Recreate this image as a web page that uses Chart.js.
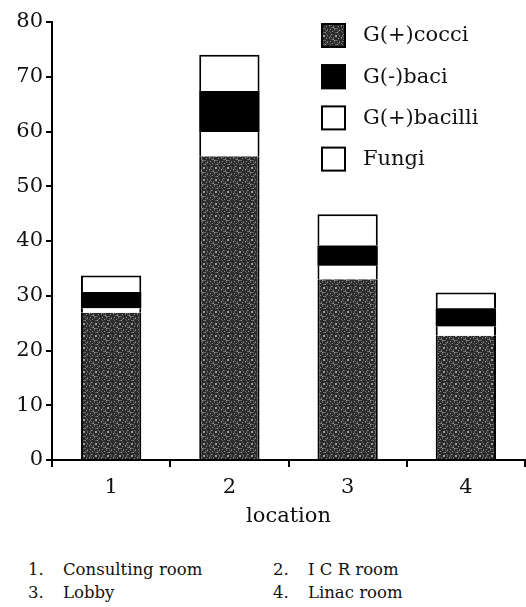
<!DOCTYPE html>
<html>
<head>
<meta charset="utf-8">
<script src="https://cdn.jsdelivr.net/npm/chart.js@4"></script>
<style>
  body { margin: 0; background: #fff; width: 526px; height: 607px; position: relative; overflow: hidden; }
  #wrap { position: absolute; left: 0; top: 0; width: 526px; height: 540px; }
  .note { position: absolute; font-family: "DejaVu Serif", serif; font-size: 16.5px; line-height: 23px; color: #111; white-space: nowrap; }
</style>
</head>
<body>
<div id="wrap"><canvas id="chart"></canvas></div>
<div class="note" style="left:28px;top:558px">1.</div>
<div class="note" style="left:63px;top:558px">Consulting room</div>
<div class="note" style="left:273px;top:558px">2.</div>
<div class="note" style="left:308px;top:558px">I C R room</div>
<div class="note" style="left:28px;top:581px">3.</div>
<div class="note" style="left:63px;top:581px">Lobby</div>
<div class="note" style="left:273px;top:581px">4.</div>
<div class="note" style="left:308px;top:581px">Linac room</div>
<script>
var locations = ["1", "2", "3", "4"];
var cocci   = [26.9, 55.5, 33.0, 22.7];
var bacilli = [0.8, 4.4, 2.5, 1.7];
var baci    = [3.0, 7.5, 3.7, 3.3];
var fungi   = [3.0, 6.6, 5.7, 2.9];
var yTicks  = [0, 10, 20, 30, 40, 50, 60, 70, 80];
var legendOrder = ["G(+)cocci", "G(-)baci", "G(+)bacilli", "Fungi"];

var serif = "'DejaVu Serif', serif";

// stippled dark grey fill for the cocci part
function stipple() {
  var c = document.createElement("canvas");
  c.width = 12; c.height = 12;
  var g = c.getContext("2d");
  g.fillStyle = "#2b2b2b";
  g.fillRect(0, 0, 12, 12);
  for (var y = 0; y < 12; y++) {
    for (var x = 0; x < 12; x++) {
      var h = (x * 37 + y * 91 + x * y * 13) % 11;
      if (h < 3) {
        g.fillStyle = h == 0 ? "#9a9a9a" : "#666";
        g.fillRect(x, y, 1, 1);
      }
    }
  }
  return g.createPattern(c, "repeat");
}

var side = {top: 0, right: 2, bottom: 0, left: 2};

var insideLegend = {
  id: "insideLegend",
  afterDraw: function(chart) {
    var ctx = chart.ctx;
    var sets = chart.data.datasets;
    ctx.save();
    ctx.font = "21px " + serif;
    ctx.textBaseline = "middle";
    legendOrder.forEach(function(name, i) {
      var ds = sets.find(function(d) { return d.label == name; });
      var x = 321, y = 23 + i * 41.2;
      ctx.fillStyle = ds.backgroundColor;
      ctx.fillRect(x, y, 25, 25);
      ctx.lineWidth = 2;
      ctx.strokeStyle = "#000";
      ctx.strokeRect(x + 1, y + 1, 23, 23);
      ctx.fillStyle = "#111";
      ctx.fillText(name, 363, y + 13);
    });
    ctx.restore();
  }
};

function draw() {
  var dots = stipple();
  new Chart(document.getElementById("chart"), {
    type: "bar",
    data: {
      labels: locations,
      datasets: [
        {label: "G(+)cocci", data: cocci, backgroundColor: dots, borderColor: "#000", borderWidth: side, borderSkipped: false},
        {label: "G(+)bacilli", data: bacilli, backgroundColor: "#fff", borderColor: "#000", borderWidth: side, borderSkipped: false},
        {label: "G(-)baci", data: baci, backgroundColor: "#000", borderColor: "#000", borderWidth: 0},
        {label: "Fungi", data: fungi, backgroundColor: "#fff", borderColor: "#000", borderWidth: {top: 2, right: 2, bottom: 0, left: 2}, borderSkipped: false}
      ]
    },
    options: {
      responsive: true,
      maintainAspectRatio: false,
      animation: false,
      layout: {padding: {top: 22, right: 1, left: 0, bottom: 0}},
      datasets: {bar: {categoryPercentage: 1, barPercentage: 0.51}},
      plugins: {legend: {display: false}, tooltip: {enabled: false}},
      scales: {
        x: {
          stacked: true,
          afterFit: function(s) { s.height = 80; },
          border: {color: "#000", width: 2},
          grid: {display: true, drawOnChartArea: false, color: "#000", lineWidth: 2, tickLength: 7, offset: true},
          ticks: {color: "#111", padding: 10.5, font: {family: serif, size: 21, lineHeight: 1}},
          title: {display: true, text: "location", color: "#111", font: {family: serif, size: 21, lineHeight: 1}, padding: {top: 0, bottom: 12.5}}
        },
        y: {
          stacked: true,
          min: 0, max: 80,
          afterBuildTicks: function(s) { s.ticks = yTicks.map(function(v) { return {value: v}; }); },
          afterFit: function(s) { s.width = 52; },
          border: {color: "#000", width: 2},
          grid: {display: true, drawOnChartArea: false, color: "#000", lineWidth: 2, tickLength: 6},
          ticks: {color: "#111", padding: 3, font: {family: serif, size: 21}}
        }
      }
    },
    plugins: [insideLegend]
  });
}

document.fonts.load("21px 'DejaVu Serif'").then(draw, draw);
</script>
</body>
</html>
